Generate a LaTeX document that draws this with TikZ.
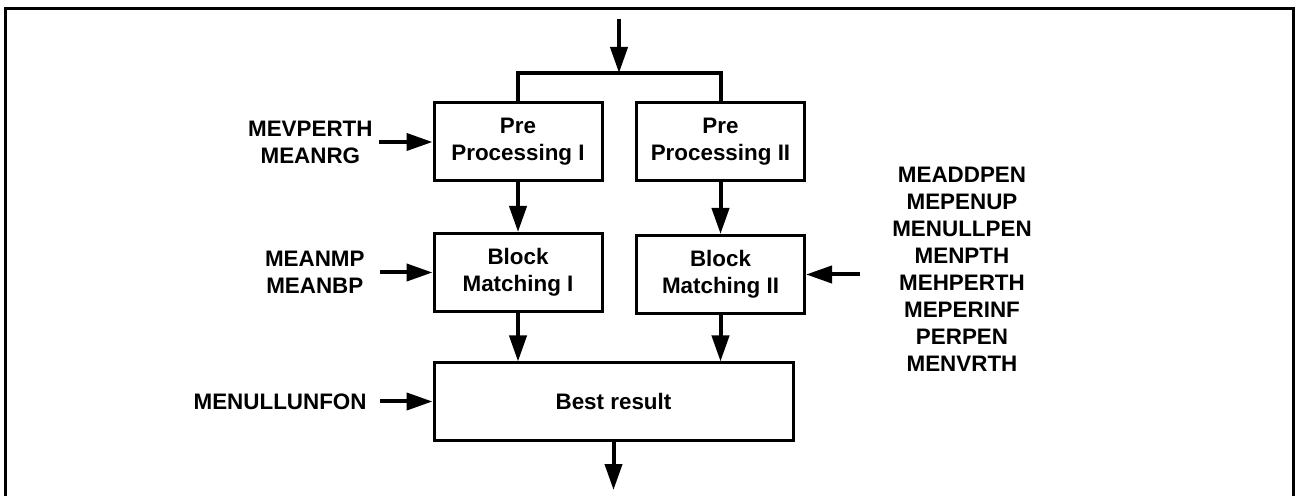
\documentclass[tikz,border=0pt]{standalone}
\usepackage{fontspec}
\setmainfont{Liberation Sans}
\usetikzlibrary{arrows.meta}

\begin{document}
\begin{tikzpicture}[
      x=0.5pt, y=-0.5pt,
      procbox/.style={draw, line width=1.5pt, minimum width=84pt, minimum height=39pt, align=center, inner sep=2pt, font=\fontsize{11.2}{13.5}\selectfont\bfseries},
      parlabel/.style={align=center, inner sep=3pt, font=\fontsize{11.2}{13.5}\selectfont\bfseries},
      arr/.style={-{Triangle[length=13pt, width=8.5pt]}, line width=2pt},
      wire/.style={line width=2pt}
  ]
    \useasboundingbox (0,0) rectangle (1295,496);
    \draw[line width=1.5pt] (5,496) -- (5,9) -- (1293,9) -- (1293,496);
    \node[procbox] (pre1) at (518,142) {Pre\\Processing I};
    \node[procbox] (pre2) at (720.5,142) {Pre\\Processing II};
    \node[procbox] (bm1) at (518,272.5) {Block\\Matching I};
    \node[procbox] (bm2) at (720.5,274.5) {Block\\Matching II};
    \node[procbox, minimum width=179.5pt, minimum height=38.5pt] (best) at (613.5,401.5) {Best result};
    \coordinate (in) at (619,19);
    \coordinate (split) at (619,73);
    \coordinate (out) at (613.5,490);
    \coordinate (mcin) at (860,274.5);
    \draw[arr] (in) -- (split);
    \draw[wire] (pre1.north) |- (split) -| (pre2.north);
    \draw[arr] (pre1) -- (bm1);
    \draw[arr] (pre2) -- (bm2);
    \draw[arr] (bm1.south) -- (bm1.south |- best.north);
    \draw[arr] (bm2.south) -- (bm2.south |- best.north);
    \draw[arr] (best) -- (out);
    \node[parlabel, anchor=east] (lbl1) at (379,142) {MEVPERTH\\MEANRG};
    \node[parlabel, anchor=east] (lbl2) at (371,272.5) {MEANMP\\MEANBP};
    \node[parlabel, anchor=east] (lbl3) at (373,401.5) {MENULLUNFON};
    \node[parlabel] (mlist) at (962,269) {MEADDPEN\\MEPENUP\\MENULLPEN\\MENPTH\\MEHPERTH\\MEPERINF\\PERPEN\\MENVRTH};
    \draw[arr] (lbl1) -- (pre1);
    \draw[arr] ([xshift=4.5pt]lbl2.east) -- (bm1);
    \draw[arr] ([xshift=3.5pt]lbl3.east) -- (best);
    \draw[arr] (mcin) -- (bm2);
  \end{tikzpicture}
\end{document}
